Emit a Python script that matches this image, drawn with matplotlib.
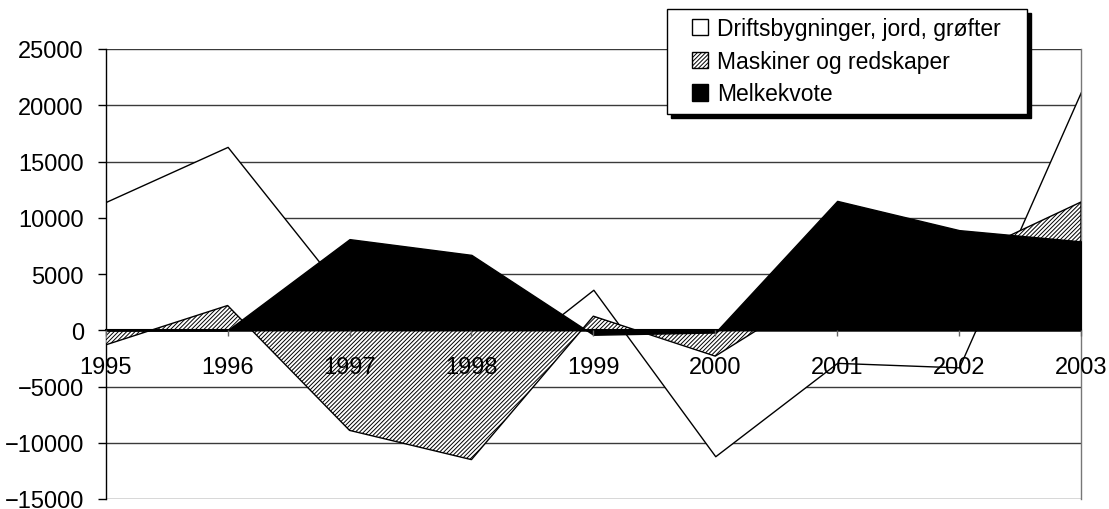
import matplotlib
matplotlib.use('Agg')
import matplotlib.pyplot as plt
from matplotlib.patches import Rectangle
from matplotlib.legend_handler import HandlerPatch

plt.rcParams['font.family'] = ['Liberation Sans', 'DejaVu Sans']
plt.rcParams['hatch.linewidth'] = 0.7

# data
years = [1995, 1996, 1997, 1998, 1999, 2000, 2001, 2002, 2003]
drift = [11400, 16300, 2700, -4900, 3600, -11200, -2900, -3300, 21200]
maskiner = [-1300, 2200, -8900, -11500, 1250, -2300, 4450, 6300, 11400]
melkekvote = [0, 0, 8100, 6700, -400, -200, 11500, 8900, 7900]
labels = ['Driftsbygninger, jord, grøfter', 'Maskiner og redskaper', 'Melkekvote']
yticks = list(range(-15000, 25001, 5000))

styles = [
    dict(facecolor='white', edgecolor='black'),
    dict(facecolor='white', edgecolor='black', hatch='////////'),
    dict(facecolor='black', edgecolor='black'),
]

fig = plt.figure(figsize=(11.09, 5.10), dpi=100)
ax = fig.add_axes([105.7 / 1109, 10 / 510, (1081 - 105.7) / 1109, 450 / 510])

# areas, overlapping (not stacked), later series on top
for i, vals in enumerate([drift, maskiner, melkekvote]):
    ax.fill_between(years, 0, vals, lw=1.0, zorder=2 + i, **styles[i])

ax.set_xlim(years[0], years[-1])
ax.set_ylim(yticks[0], yticks[-1])
ax.set_xticks(years)
ax.set_xticklabels([str(y) for y in years])
ax.set_yticks(yticks)

ax.yaxis.grid(True, color='#3a3a3a', lw=1.0)
ax.yaxis.set_zorder(0.5)
ax.xaxis.set_zorder(10)

ax.tick_params(axis='y', direction='out', length=5.8, width=1, pad=10, labelsize=17)
ax.tick_params(axis='x', direction='out', length=4.3, width=1, pad=14, labelsize=17,
               color='#666666')

ax.spines['bottom'].set_position(('data', 0))
ax.spines['bottom'].set_zorder(10)
ax.spines['bottom'].set_linewidth(1.5)
ax.spines['left'].set_linewidth(1.0)
ax.spines['top'].set_visible(False)
ax.spines['right'].set_color('#777777')
ax.spines['right'].set_linewidth(1.0)


# small square sitting at the right end of the handle box
def square(legend, orig_handle, xdescent, ydescent, width, height, fontsize):
    return Rectangle((-xdescent + width - height, -ydescent), height, height)


proxies = [Rectangle((0, 0), 1, 1, lw=1.0, **s) for s in styles]
leg = ax.legend(proxies, labels, loc='upper left',
                bbox_to_anchor=(667 / 1109, 1 - 113 / 510, 360 / 1109, 103 / 510),
                bbox_transform=fig.transFigure, mode='expand', borderaxespad=0,
                fontsize=16.5, fancybox=False, edgecolor='black', framealpha=1,
                handlelength=1.45, handleheight=0.7, handletextpad=0.38,
                labelspacing=0.42, borderpad=0.36,
                handler_map={Rectangle: HandlerPatch(patch_func=square)},
                shadow={'ox': 3, 'oy': -3, 'facecolor': 'black',
                        'edgecolor': 'black', 'alpha': 1})
leg.get_frame().set_linewidth(1.0)
leg.set_zorder(20)

fig.savefig('out.png', dpi=100)
